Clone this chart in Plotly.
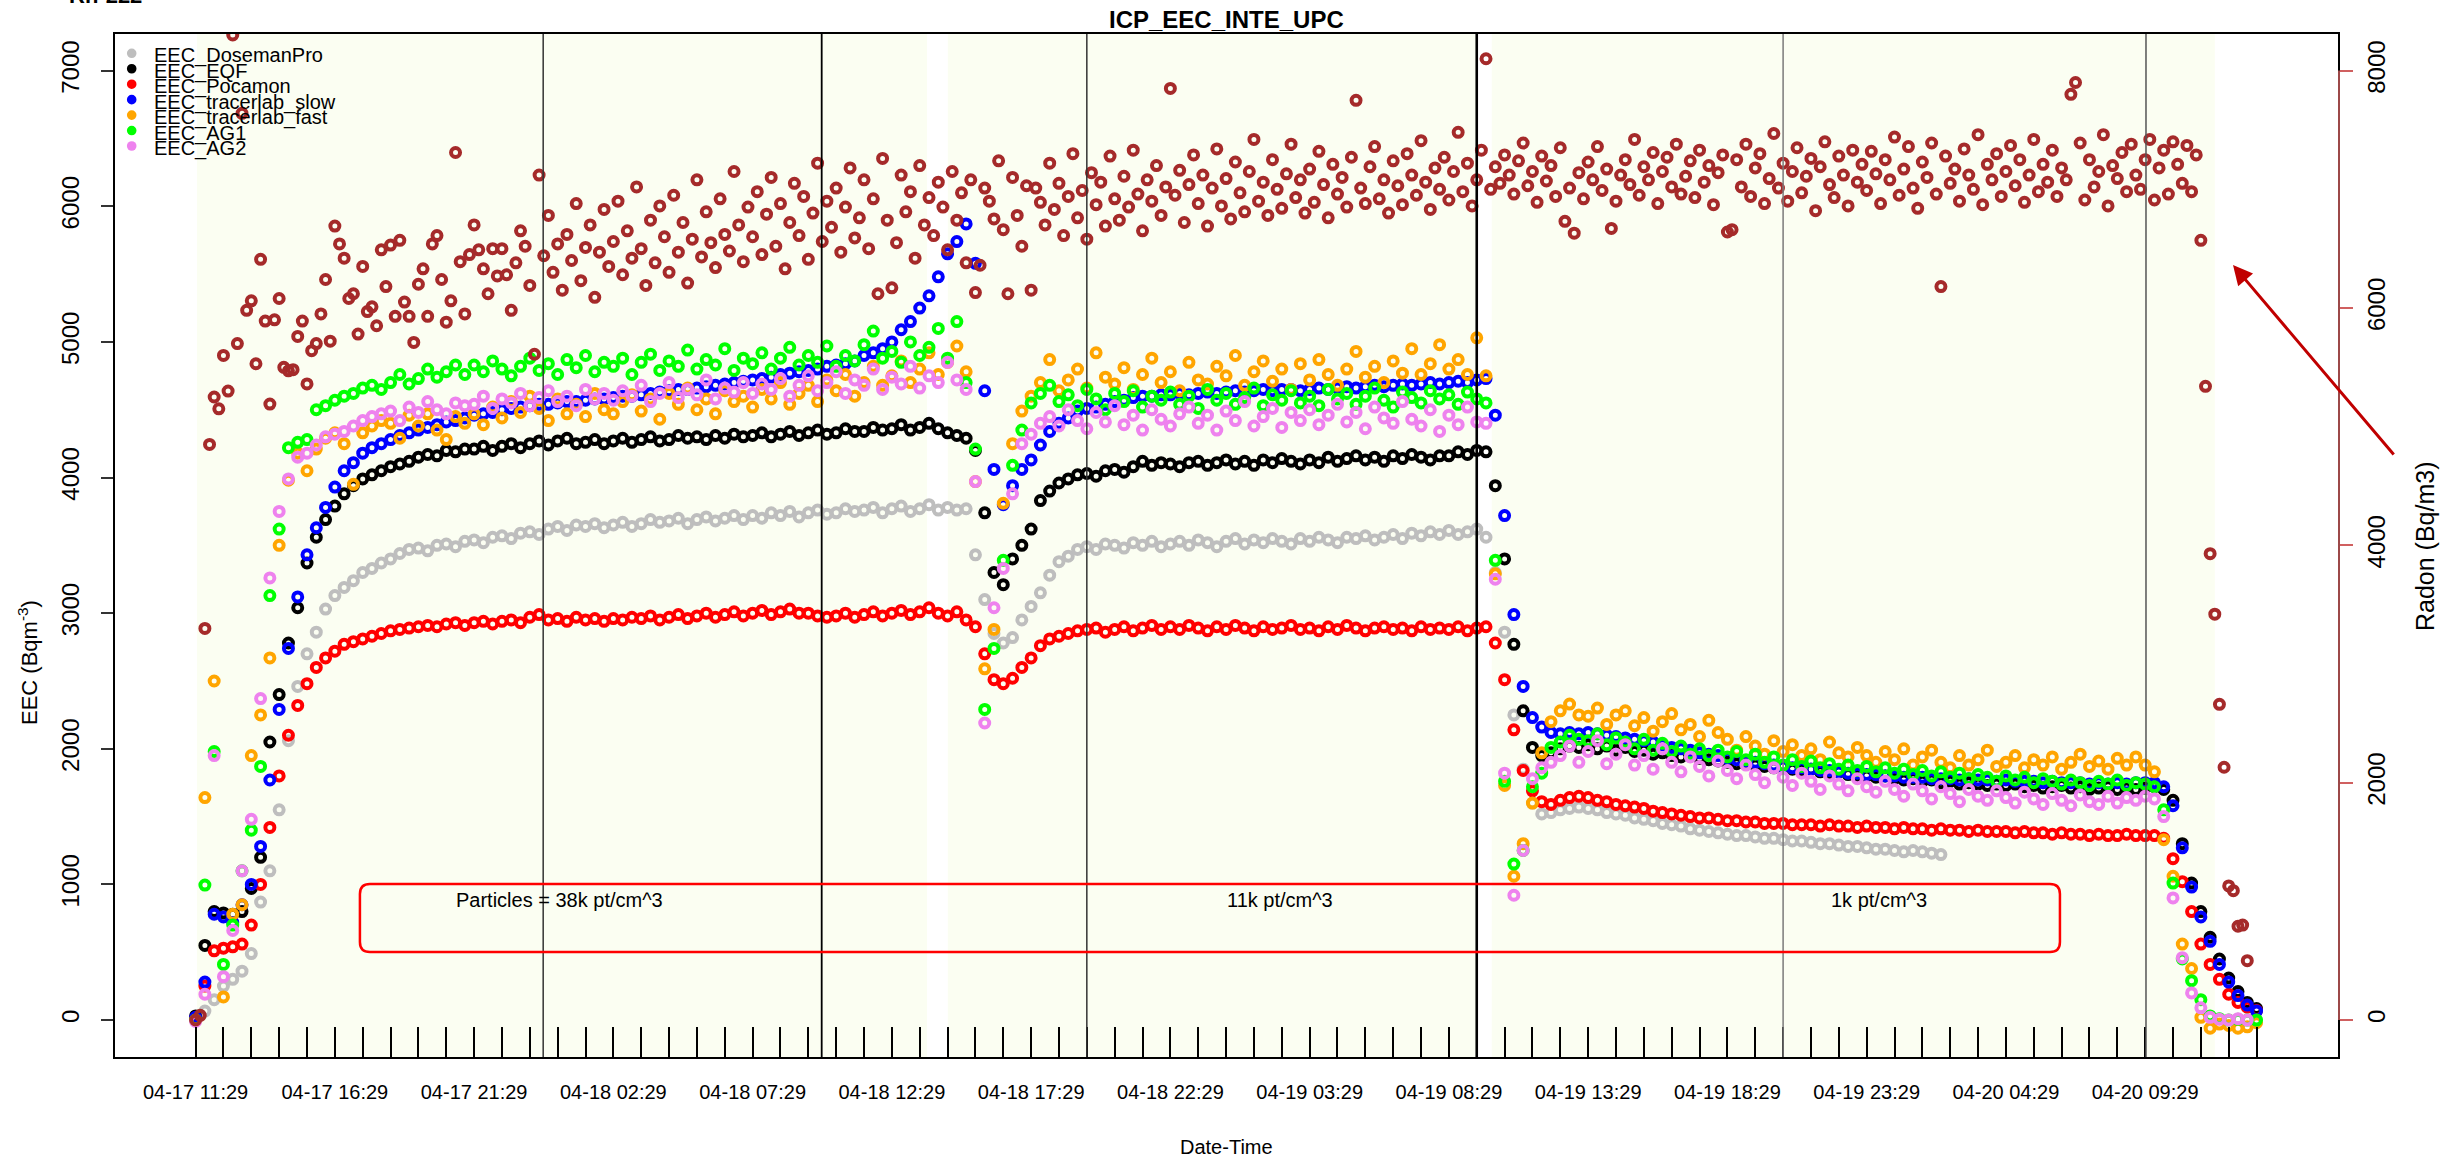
import plotly.graph_objects as go

# ---------------- data ----------------
EEC_STEP_H = 1 / 3      # EEC series sampled every 20 min (hours since 04-17 11:29)
RN_STEP_H = 1 / 6       # radon sampled every 10 min
HOUR_TICKS = list(range(0, 75))
TICK_LABELS = ["04-17 11:29", "04-17 16:29", "04-17 21:29", "04-18 02:29", "04-18 07:29",
               "04-18 12:29", "04-18 17:29", "04-18 22:29", "04-19 03:29", "04-19 08:29",
               "04-19 13:29", "04-19 18:29", "04-19 23:29", "04-20 04:29", "04-20 09:29"]
LABEL_EVERY_H = 5

EEC_DosemanPro = [
    0, 66, 150, 250, 300, 360, 490, 870, 1100, 1550, 2060, 2460, 2700, 2860, 3030,
    3130, 3190, 3240, 3300, 3330, 3370, 3400, 3440, 3470, 3480, 3460, 3500, 3510, 3490, 3530,
    3540, 3520, 3560, 3570, 3550, 3590, 3600, 3580, 3620, 3640, 3610, 3650, 3640, 3660, 3630,
    3650, 3670, 3640, 3660, 3690, 3670, 3680, 3700, 3660, 3690, 3710, 3680, 3700, 3720, 3690,
    3720, 3700, 3740, 3720, 3750, 3710, 3740, 3760, 3730, 3740, 3770, 3750, 3760, 3780, 3740,
    3770, 3790, 3750, 3770, 3800, 3760, 3780, 3760, 3770, 3430, 3100, 2850, 2780, 2820, 2950,
    3050, 3150, 3280, 3380, 3420, 3470, 3490, 3470, 3510, 3500, 3480, 3520, 3500, 3530, 3490,
    3510, 3530, 3500, 3540, 3520, 3490, 3530, 3550, 3510, 3540, 3520, 3550, 3530, 3510, 3550,
    3530, 3560, 3540, 3520, 3560, 3550, 3570, 3540, 3560, 3580, 3550, 3590, 3570, 3600, 3580,
    3610, 3580, 3600, 3620, 3560, 3300, 2860, 2250, 1850, 1600, 1520, 1530, 1550, 1560, 1570,
    1560, 1550, 1530, 1520, 1510, 1490, 1480, 1470, 1450, 1440, 1430, 1410, 1400, 1390, 1380,
    1370, 1360, 1360, 1350, 1340, 1340, 1330, 1320, 1320, 1310, 1300, 1300, 1290, 1280, 1280,
    1270, 1260, 1260, 1250, 1240, 1250, 1240, 1230, 1220]

EEC_EQF = [
    30, 550, 800, 790, 780, 800, 970, 1200, 2050, 2400, 2780, 3040, 3370, 3560, 3690,
    3790, 3880, 3940, 3990, 4020, 4050, 4080, 4100, 4120, 4150, 4170, 4160, 4200, 4190, 4210,
    4210, 4230, 4200, 4230, 4250, 4220, 4250, 4270, 4240, 4270, 4290, 4250, 4260, 4280, 4250,
    4270, 4290, 4260, 4280, 4300, 4270, 4280, 4310, 4290, 4300, 4280, 4310, 4290, 4320, 4300,
    4310, 4330, 4300, 4320, 4340, 4310, 4330, 4350, 4320, 4330, 4360, 4340, 4340, 4370, 4350,
    4360, 4390, 4350, 4370, 4400, 4360, 4330, 4310, 4290, 4200, 3740, 3300, 3210, 3400, 3500,
    3620, 3830, 3900, 3960, 3990, 4020, 4030, 4010, 4050, 4060, 4040, 4080, 4120, 4090, 4110,
    4100, 4080, 4110, 4120, 4090, 4110, 4130, 4100, 4120, 4090, 4130, 4110, 4140, 4120, 4100,
    4130, 4110, 4150, 4120, 4140, 4160, 4130, 4150, 4120, 4160, 4140, 4170, 4150, 4130, 4160,
    4160, 4190, 4170, 4200, 4190, 3940, 3400, 2770, 2280, 2010, 1950, 1970, 2000, 2020, 2010,
    2030, 2000, 2020, 1990, 2010, 1980, 1990, 1960, 1970, 1950, 1940, 1960, 1930, 1920, 1910,
    1900, 1890, 1900, 1880, 1870, 1860, 1870, 1850, 1840, 1850, 1830, 1820, 1830, 1810, 1800,
    1800, 1790, 1800, 1780, 1770, 1780, 1760, 1770, 1750, 1760, 1740, 1750, 1740, 1730, 1740,
    1730, 1740, 1720, 1730, 1710, 1720, 1730, 1710, 1720, 1700, 1710, 1720, 1700, 1710, 1700,
    1710, 1720, 1700, 1620, 1300, 1010, 800, 610, 450, 310, 210, 130, 85]

EEC_Pocamon = [
    10, 250, 510, 530, 540, 560, 700, 1000, 1420, 1800, 2100, 2320, 2480, 2600, 2670,
    2720, 2770, 2790, 2810, 2830, 2850, 2870, 2880, 2890, 2900, 2910, 2900, 2920, 2930, 2910,
    2930, 2940, 2920, 2940, 2950, 2930, 2970, 2990, 2950, 2960, 2940, 2970, 2950, 2960, 2940,
    2960, 2950, 2970, 2960, 2980, 2950, 2970, 2990, 2960, 2980, 3000, 2970, 2990, 3010, 2980,
    3000, 3020, 2990, 3010, 3030, 3000, 3000, 2980, 2970, 2980, 3000, 2970, 2990, 3010, 2980,
    3000, 3020, 2990, 3010, 3040, 3000, 2980, 3010, 2950, 2900, 2700, 2510, 2480, 2520, 2600,
    2670, 2760, 2810, 2830, 2850, 2870, 2880, 2890, 2860, 2880, 2900, 2870, 2890, 2910, 2880,
    2900, 2880, 2910, 2890, 2870, 2900, 2880, 2910, 2890, 2870, 2900, 2880, 2890, 2910, 2880,
    2890, 2870, 2900, 2880, 2910, 2890, 2870, 2890, 2900, 2880, 2890, 2870, 2900, 2880, 2890,
    2880, 2900, 2870, 2890, 2900, 2780, 2510, 2140, 1840, 1690, 1610, 1590, 1620, 1640, 1650,
    1640, 1620, 1610, 1590, 1580, 1570, 1560, 1540, 1530, 1520, 1510, 1500, 1490, 1490, 1480,
    1470, 1470, 1460, 1460, 1450, 1450, 1450, 1440, 1440, 1440, 1430, 1440, 1430, 1430, 1420,
    1430, 1420, 1420, 1410, 1420, 1410, 1410, 1400, 1410, 1400, 1400, 1390, 1400, 1390, 1390,
    1390, 1380, 1390, 1380, 1380, 1370, 1380, 1370, 1370, 1360, 1370, 1360, 1360, 1370, 1360,
    1360, 1360, 1340, 1190, 1020, 800, 560, 410, 300, 190, 130, 95, 70]

EEC_tracerlab_slow = [
    20, 280, 780, 760, 720, 850, 1000, 1280, 1770, 2290, 2740, 3120, 3430, 3630, 3780,
    3930, 4050, 4110, 4180, 4220, 4250, 4280, 4310, 4330, 4350, 4370, 4390, 4410, 4420, 4440,
    4460, 4470, 4480, 4500, 4510, 4520, 4530, 4540, 4540, 4550, 4560, 4560, 4570, 4580, 4580,
    4590, 4600, 4600, 4610, 4620, 4630, 4640, 4650, 4650, 4660, 4670, 4680, 4690, 4700, 4710,
    4720, 4730, 4740, 4760, 4770, 4780, 4790, 4800, 4820, 4830, 4840, 4860, 4900, 4920, 4950,
    5000, 5090, 5150, 5250, 5340, 5480, 5650, 5740, 5870, 5580, 4640, 4060, 3800, 3940, 4060,
    4130, 4240, 4340, 4400, 4440, 4490, 4510, 4520, 4540, 4560, 4570, 4590, 4600, 4600, 4610,
    4610, 4620, 4610, 4620, 4630, 4620, 4630, 4640, 4630, 4640, 4650, 4640, 4650, 4650, 4640,
    4650, 4660, 4650, 4660, 4670, 4660, 4670, 4680, 4670, 4680, 4690, 4680, 4690, 4700, 4690,
    4700, 4710, 4700, 4720, 4730, 4460, 3720, 2990, 2460, 2230, 2160, 2120, 2110, 2120, 2110,
    2120, 2110, 2100, 2090, 2080, 2070, 2060, 2050, 2030, 2010, 2000, 1990, 1970, 1960, 1950,
    1930, 1920, 1910, 1900, 1890, 1880, 1870, 1860, 1860, 1850, 1840, 1840, 1830, 1820, 1820,
    1810, 1810, 1800, 1800, 1790, 1790, 1790, 1780, 1780, 1780, 1770, 1780, 1770, 1770, 1760,
    1770, 1760, 1760, 1760, 1750, 1760, 1750, 1750, 1750, 1740, 1750, 1740, 1750, 1740, 1750,
    1750, 1750, 1720, 1580, 1270, 980, 760, 580, 410, 280, 180, 110, 66]

EEC_tracerlab_fast = [
    0, 1640, 2500, 170, 780, 850, 1950, 2250, 2670, 3500, 3980, 4180, 4050, 4210, 4290,
    4330, 4250, 3950, 4330, 4380, 4420, 4400, 4290, 4460, 4380, 4470, 4350, 4280, 4450, 4400,
    4470, 4390, 4520, 4440, 4560, 4480, 4600, 4510, 4420, 4580, 4470, 4540, 4450, 4620, 4500,
    4470, 4560, 4610, 4490, 4580, 4430, 4620, 4540, 4660, 4500, 4580, 4470, 4640, 4560, 4600,
    4520, 4650, 4580, 4700, 4540, 4620, 4680, 4560, 4720, 4640, 4760, 4600, 4700, 4820, 4680,
    4750, 4860, 4700, 4800, 4920, 4760, 4850, 4970, 4780, 3970, 2590, 2880, 3810, 4250, 4490,
    4600, 4700, 4870, 4640, 4720, 4800, 4660, 4920, 4740, 4690, 4810, 4650, 4760, 4880, 4700,
    4780, 4640, 4850, 4720, 4690, 4820, 4750, 4900, 4680, 4780, 4860, 4710, 4800, 4650, 4840,
    4720, 4870, 4760, 4680, 4800, 4930, 4740, 4820, 4700, 4860, 4770, 4950, 4760, 4840, 4980,
    4800, 4870, 4760, 5030, 4750, 3290, 1730, 1060, 1300, 1600, 1970, 2200, 2280, 2330, 2250,
    2240, 2300, 2180, 2250, 2280, 2170, 2230, 2130, 2200, 2260, 2140, 2180, 2090, 2210, 2120,
    2070, 1990, 2090, 2020, 1960, 2060, 1980, 2030, 1950, 2000, 1920, 2050, 1970, 1940, 2010,
    1950, 1900, 1980, 1920, 2000, 1880, 1940, 1990, 1900, 1860, 1950, 1880, 1920, 1990, 1870,
    1900, 1950, 1860, 1920, 1880, 1940, 1850, 1900, 1960, 1870, 1910, 1850, 1930, 1880, 1940,
    1880, 1830, 1330, 1060, 560, 380, 20, -60, -30, -40, -60, -50, -20]

EEC_AG1 = [
    0, 995, 1980, 410, 700, 1100, 1400, 1870, 3130, 3620, 4220, 4260, 4280, 4500, 4530,
    4570, 4600, 4620, 4660, 4680, 4650, 4700, 4760, 4690, 4730, 4800, 4740, 4780, 4830, 4760,
    4830, 4780, 4860, 4800, 4750, 4820, 4880, 4790, 4840, 4760, 4870, 4810, 4900, 4780, 4850,
    4820, 4880, 4760, 4850, 4910, 4790, 4860, 4820, 4940, 4800, 4870, 4830, 4950, 4790, 4880,
    4840, 4920, 4800, 4880, 4960, 4830, 4900, 4850, 4970, 4820, 4900, 4860, 4980, 5080, 4880,
    4930, 4850, 5000, 4900, 4960, 5100, 4880, 5150, 4700, 4210, 2290, 2740, 3390, 4090, 4350,
    4550, 4620, 4680, 4560, 4610, 4530, 4650, 4580, 4500, 4620, 4560, 4640, 4520, 4600, 4570,
    4630, 4540, 4600, 4510, 4650, 4570, 4620, 4540, 4590, 4660, 4530, 4610, 4570, 4640, 4550,
    4600, 4530, 4650, 4580, 4620, 4540, 4600, 4660, 4570, 4520, 4630, 4590, 4550, 4640, 4580,
    4610, 4540, 4630, 4580, 4550, 3390, 1760, 1150, 1250, 1720, 1820, 2010, 2050, 2100, 2070,
    2060, 2110, 2030, 2080, 2050, 2000, 2070, 1990, 2040, 1980, 2020, 1960, 2000, 1950, 1990,
    1940, 1980, 1920, 1960, 1900, 1940, 1880, 1920, 1870, 1910, 1860, 1890, 1850, 1880, 1840,
    1870, 1830, 1860, 1820, 1850, 1810, 1840, 1800, 1830, 1790, 1820, 1780, 1810, 1790, 1760,
    1800, 1770, 1790, 1750, 1780, 1760, 1740, 1770, 1750, 1730, 1760, 1740, 1770, 1730, 1750,
    1740, 1720, 1550, 1010, 450, 290, 150, 30, 10, 0, 5, 0, 0]

EEC_AG2 = [
    -10, 190, 1950, 320, 660, 1100, 1480, 2370, 3260, 3750, 3990, 4150, 4180, 4240, 4300,
    4320, 4340, 4380, 4420, 4450, 4470, 4490, 4420, 4520, 4480, 4560, 4500, 4470, 4550, 4530,
    4540, 4600, 4510, 4580, 4550, 4620, 4530, 4590, 4640, 4560, 4600, 4530, 4650, 4580, 4620,
    4570, 4640, 4600, 4680, 4560, 4620, 4700, 4590, 4650, 4610, 4720, 4580, 4660, 4630, 4700,
    4620, 4690, 4650, 4730, 4600, 4680, 4750, 4640, 4700, 4780, 4620, 4720, 4680, 4800, 4650,
    4740, 4690, 4820, 4660, 4750, 4700, 4850, 4720, 4650, 3970, 2190, 3040, 3330, 3880, 4250,
    4320, 4400, 4450, 4380, 4500, 4420, 4360, 4480, 4410, 4530, 4390, 4460, 4350, 4500, 4430,
    4380, 4470, 4520, 4400, 4460, 4350, 4490, 4420, 4560, 4380, 4450, 4510, 4370, 4480, 4420,
    4500, 4390, 4460, 4540, 4410, 4480, 4360, 4520, 4440, 4400, 4560, 4430, 4380, 4500, 4340,
    4460, 4390, 4520, 4410, 4400, 3250, 1820, 920, 1250, 1780, 1860, 1900, 1950, 2020, 1900,
    1980, 2060, 1890, 1960, 2030, 1880, 1950, 1850, 2000, 1900, 1830, 1940, 1870, 1800, 1910,
    1840, 1780, 1880, 1810, 1750, 1860, 1790, 1730, 1820, 1760, 1700, 1800, 1740, 1690, 1780,
    1720, 1680, 1760, 1700, 1650, 1740, 1690, 1630, 1720, 1670, 1610, 1700, 1650, 1620, 1690,
    1640, 1600, 1680, 1630, 1590, 1670, 1620, 1580, 1660, 1610, 1590, 1650, 1600, 1640, 1620,
    1650, 1630, 1500, 900, 460, 200, 90, 20, 5, 0, 10, 0]

RADON = [
    0, 40, 3300, 4850, 5250, 5150, 5600, 5300, 8300, 5700, 7640, 5980, 6060, 5530, 6410,
    5890, 5190, 5900, 6080, 5500, 5470, 5480, 5760, 5890, 5360, 5640, 5700, 5950, 6240, 5720,
    6690, 6540, 6420, 6080, 6120, 5780, 6350, 5970, 6010, 5850, 6490, 6180, 6530, 5930, 6570,
    6050, 5930, 5710, 6200, 6330, 5930, 6540, 6610, 6240, 5880, 6060, 7310, 6390, 5950, 6450,
    6700, 6490, 6330, 6120, 6500, 6270, 6500, 6280, 5980, 6380, 6650, 6520, 6190, 5610, 7120,
    6440, 6780, 6300, 6540, 6150, 6620, 6400, 6880, 6230, 6510, 6700, 6090, 6470, 6830, 6350,
    6560, 6900, 6280, 6650, 6420, 7020, 6500, 6190, 6740, 6380, 6860, 6600, 6300, 6950, 6470,
    6720, 6210, 6580, 7080, 6430, 6810, 6550, 6340, 6920, 6620, 6480, 7150, 6700, 6390, 6850,
    6600, 6980, 6450, 6790, 7100, 6520, 6880, 6330, 6720, 7050, 6610, 6940, 6410, 6800, 7220,
    6560, 6900, 6680, 7010, 6470, 6850, 7180, 6590, 6760, 7080, 6500, 6920, 6120, 7260, 6740,
    6170, 6550, 7120, 6810, 6980, 6420, 7200, 6700, 6930, 6610, 7060, 6850, 6490, 7150, 6740,
    6970, 6380, 7080, 6130, 6360, 7010, 6900, 6750, 7240, 6660, 6120, 7100, 6780, 6520, 7030,
    6150, 7010, 6890, 6700, 7220, 6830, 7050, 6610, 6940, 7300, 6760, 6990, 6580, 7140, 6870,
    7060, 6690, 7280, 6920, 6740, 7110, 6850, 7330, 6960, 6650, 7080, 6900, 7200, 6780, 7020,
    7850, 6950, 7160, 6720, 7040, 7290, 6880, 7120, 6690, 7010, 7340, 6860, 7090, 6750, 7230,
    6970, 6810, 7150, 7420, 6900, 7060, 6780, 7250, 7000, 6840, 7130, 7380, 6930, 7080, 6800,
    7170, 6890, 7320, 7040, 6760, 7210, 6960, 7100, 6850, 7270, 7750, 7010, 6880, 7190, 7360,
    6920, 7080, 6800, 7240, 7030, 6870, 7300, 7120, 6950, 7410, 7060, 6830, 7180, 7000, 7270,
    6910, 7150, 7480, 6980, 7220, 6860, 7080, 7330, 8100, 7000, 7190, 7050, 7290, 7120, 6960,
    7240, 7390, 7030, 7150, 6890, 7280, 7070, 7200, 6940, 7350, 6730, 7010, 6630, 7140, 6920,
    7230, 7080, 7360, 6990, 7170, 6670, 6900, 7120, 7250, 7040, 7420, 6950, 7190, 7080, 7310,
    6880, 7150, 7270, 7020, 7380, 6960, 7110, 7240, 6930, 7330, 7060, 7200, 6870, 7140, 7290,
    6640, 6660, 7250, 7020, 7380, 6940, 7180, 7300, 6880, 7090, 7470, 7010, 7220, 6900, 7150,
    7350, 6970, 7110, 7260, 6820, 7190, 7400, 7040, 6930, 7280, 7120, 6860, 7330, 7060, 7210,
    6990, 7320, 7130, 6880, 7250, 7080, 7440, 6950, 7170, 7360, 7010, 6840, 7230, 7100, 7390,
    6960, 6180, 7280, 7050, 7170, 6900, 7340, 7120, 7000, 7460, 6870, 7210, 7080, 7300, 6940,
    7150, 7370, 7030, 7250, 6890, 7120, 7420, 6980, 7210, 7060, 7330, 6940, 7180, 7080, 7800,
    7900, 7390, 6910, 7250, 7020, 7150, 7460, 6860, 7200, 7090, 7310, 6980, 7380, 7120, 7000,
    7250, 7420, 6910, 7180, 7330, 6960, 7400, 7210, 7050, 7370, 6980, 7290, 6570, 5340, 3930,
    3420, 2660, 2130, 1130, 1090, 790, 800, 500]

SERIES_NAMES = ["EEC_DosemanPro", "EEC_EQF", "EEC_Pocamon", "EEC_tracerlab_slow",
                "EEC_tracerlab_fast", "EEC_AG1", "EEC_AG2"]
SERIES_VALUES = [EEC_DosemanPro, EEC_EQF, EEC_Pocamon, EEC_tracerlab_slow,
                 EEC_tracerlab_fast, EEC_AG1, EEC_AG2]
SERIES_COLORS = ["#BEBEBE", "#000000", "#FF0000", "#0000FF", "#FFA500", "#00FF00", "#EE82EE"]
RADON_COLOR = "#A52A2A"

# periods (hours since start)
BG_BANDS_H = [(0.05, 26.26), (27.01, 46.04), (46.54, 72.5)]
VLINES_H = [(12.48, "#333333", 1.5), (22.48, "#000000", 1.8), (32.0, "#333333", 1.5),
            (46.0, "#000000", 2.6), (57.0, "#7a7a7a", 1.5), (70.03, "#555555", 1.5)]
PARTICLE_BOX_H = (5.90, 66.94)
PARTICLE_BOX_EEC = (501, 1003)
PARTICLE_LABELS = [("Particles = 38k pt/cm^3", 13.05), ("11k pt/cm^3", 38.93), ("1k pt/cm^3", 60.44)]
PARTICLE_LABEL_EEC = 885

# ---------------- geometry (pixels) ----------------
W, H = 2447, 1160
L, R, T, B = 114, 2339, 33, 1058
XR = [-2.93, 76.96]
YR = [-280, 7278]
Y2R = [-320, 8317]
FONT = "Liberation Sans, Arial, sans-serif"


def pxx(x):
    return (x - L) / (R - L)


def pxy(y):
    return (B - y) / (B - T)


fig = go.Figure()
for name, vals, col in zip(SERIES_NAMES, SERIES_VALUES, SERIES_COLORS):
    fig.add_trace(go.Scatter(
        x=[i * EEC_STEP_H for i in range(len(vals))], y=vals, mode="markers", name=name,
        marker=dict(symbol="circle-open", size=9, color=col, line=dict(width=4, color=col)),
        showlegend=False))
fig.add_trace(go.Scatter(
    x=[i * RN_STEP_H for i in range(len(RADON))], y=RADON, mode="markers", name="Radon",
    yaxis="y2",
    marker=dict(symbol="circle-open", size=9, color=RADON_COLOR, line=dict(width=4, color=RADON_COLOR)),
    showlegend=False))

shapes = []
for a, b in BG_BANDS_H:
    shapes.append(dict(type="rect", xref="x", yref="paper", x0=a, x1=b, y0=0, y1=1,
                       fillcolor="#FBFEF2", line=dict(width=0), layer="below"))
for h, c, w in VLINES_H:
    shapes.append(dict(type="line", xref="x", yref="paper", x0=h, x1=h, y0=0, y1=1,
                       line=dict(color=c, width=w), layer="above"))

# rounded particle box
x0, x1 = PARTICLE_BOX_H
y0, y1 = PARTICLE_BOX_EEC
rx = 10 / ((R - L) / (XR[1] - XR[0]))
ry = 10 / ((B - T) / (YR[1] - YR[0]))
path = (f"M {x0+rx},{y0} L {x1-rx},{y0} Q {x1},{y0} {x1},{y0+ry} L {x1},{y1-ry} "
        f"Q {x1},{y1} {x1-rx},{y1} L {x0+rx},{y1} Q {x0},{y1} {x0},{y1-ry} "
        f"L {x0},{y0+ry} Q {x0},{y0} {x0+rx},{y0} Z")
shapes.append(dict(type="path", xref="x", yref="y", path=path,
                   line=dict(color="#FF0000", width=2.5), layer="above"))

# frame + red right axis line
shapes.append(dict(type="rect", xref="paper", yref="paper", x0=0, x1=1, y0=0, y1=1,
                   line=dict(color="#000000", width=2), layer="above"))
shapes.append(dict(type="line", xref="paper", yref="y2", x0=1, x1=1, y0=0, y1=8000,
                   line=dict(color="#D06060", width=1.5), layer="above"))

# legend markers
LEG_X, LEG_Y0, LEG_DY, LEG_R = 131.7, 53.3, 15.45, 4.8
annotations = []
for k, (name, col) in enumerate(zip(SERIES_NAMES, SERIES_COLORS)):
    yc = LEG_Y0 + k * LEG_DY
    shapes.append(dict(type="circle", xref="paper", yref="paper",
                       x0=pxx(LEG_X - LEG_R), x1=pxx(LEG_X + LEG_R),
                       y0=pxy(yc + LEG_R), y1=pxy(yc - LEG_R),
                       fillcolor=col, line=dict(width=0), layer="above"))
    annotations.append(dict(text=name, xref="paper", yref="paper", x=pxx(151.5), y=pxy(yc + 2.5),
                            xanchor="left", yanchor="middle", showarrow=False,
                            font=dict(family=FONT, size=20, color="#000000")))

for txt, h in PARTICLE_LABELS:
    annotations.append(dict(text=txt, xref="x", yref="y", x=h, y=PARTICLE_LABEL_EEC,
                            xanchor="center", yanchor="middle",
                            showarrow=False, font=dict(family=FONT, size=20, color="#000000")))

annotations += [
    dict(text="<b>ICP_EEC_INTE_UPC</b>", xref="paper", yref="paper", x=0.5, y=pxy(20),
         xanchor="center", yanchor="middle",
         showarrow=False, font=dict(family=FONT, size=24, color="#000000")),
    dict(text="<b>Rn-222</b>", xref="paper", yref="paper", x=pxx(105), y=pxy(-4.5),
         xanchor="center", yanchor="middle",
         showarrow=False, font=dict(family=FONT, size=22, color="#000000")),
    dict(text="Date-Time", xref="paper", yref="paper", x=0.5, y=pxy(1147),
         xanchor="center", yanchor="middle",
         showarrow=False, font=dict(family=FONT, size=20, color="#000000")),
    dict(text="EEC (Bqm<sup>-3</sup>)", xref="paper", yref="paper", x=pxx(28), y=pxy(663),
         xanchor="center", yanchor="middle",
         textangle=-90, showarrow=False, font=dict(family=FONT, size=22, color="#000000")),
    dict(text="Radon (Bq/m3)", xref="paper", yref="paper", x=pxx(2425), y=pxy(546),
         xanchor="center", yanchor="middle",
         textangle=-90, showarrow=False, font=dict(family=FONT, size=25, color="#000000")),
    dict(text="", xref="paper", yref="paper", x=pxx(2233), y=pxy(265),
         ax=2395 - 2233, ay=456 - 265, axref="pixel", ayref="pixel",
         showarrow=True, arrowhead=2, arrowsize=1.3, arrowwidth=3, arrowcolor="#C00000"),
]

ticktext = [TICK_LABELS[h // LABEL_EVERY_H] if h % LABEL_EVERY_H == 0 else "" for h in HOUR_TICKS]

fig.update_layout(
    width=W, height=H, margin=dict(l=L, r=W - R, t=T, b=H - B, pad=0),
    paper_bgcolor="white", plot_bgcolor="white", showlegend=False,
    font=dict(family=FONT, color="#000000"),
    shapes=shapes, annotations=annotations,
    xaxis=dict(range=XR, tickmode="array", tickvals=HOUR_TICKS, ticktext=ticktext,
               ticks="inside", ticklen=31, tickwidth=1.5, tickcolor="#000000",
               showgrid=False, zeroline=False, showline=False,
               tickfont=dict(family=FONT, size=20, color="#000000"), ticklabelstandoff=20),
    yaxis=dict(range=YR, tickmode="array", tickvals=[0, 1000, 2000, 3000, 4000, 5000, 6000, 7000],
               ticks="outside", ticklen=12, tickwidth=1.5, tickcolor="#333333", tickangle=-90,
               showgrid=False, zeroline=False, showline=False,
               tickfont=dict(family=FONT, size=24, color="#000000"), ticklabelstandoff=12),
    yaxis2=dict(range=Y2R, overlaying="y", side="right", tickmode="array",
                tickvals=[0, 2000, 4000, 6000, 8000],
                ticks="outside", ticklen=13, tickwidth=1.5, tickcolor="#D06060", tickangle=-90,
                showgrid=False, zeroline=False, showline=False,
                tickfont=dict(family=FONT, size=24, color="#000000"), ticklabelstandoff=3),
)

fig.write_html("out.html")
